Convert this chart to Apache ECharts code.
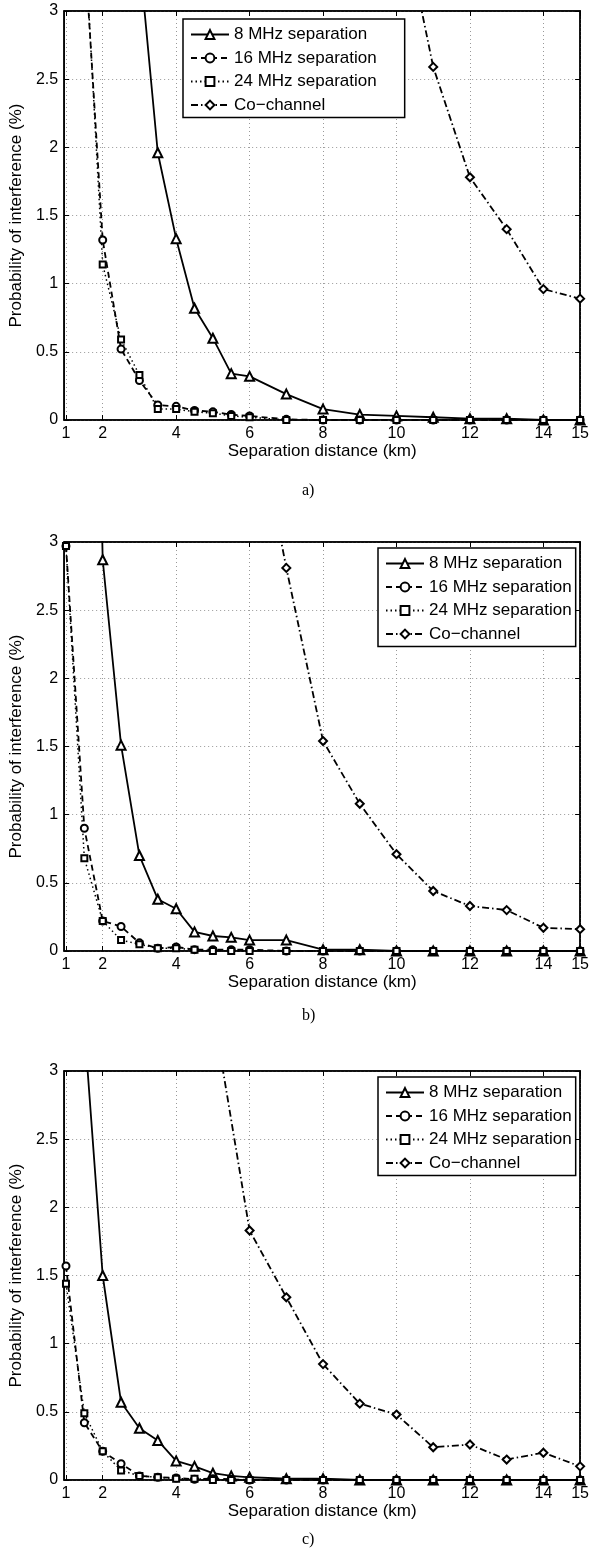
<!DOCTYPE html>
<html>
<head>
<meta charset="utf-8">
<script src="https://cdn.jsdelivr.net/npm/echarts@6/dist/echarts.min.js"></script>
<style>
html, body { margin: 0; padding: 0; background: #fff; }
#chart { width: 592px; height: 1562px; }
</style>
</head>
<body>
<div id="chart"></div>
<script>
// separation distance (km) for every measured point
var dist = [1, 1.5, 2, 2.5, 3, 3.5, 4, 4.5, 5, 5.5, 6, 7, 8, 9, 10, 11, 12, 13, 14, 15];
var xTickLabels = [1, 2, 4, 6, 8, 10, 12, 14, 15];
var names = ['8 MHz separation', '16 MHz separation', '24 MHz separation', 'Co\u2212channel'];
var panelLabels = ['a)', 'b)', 'c)'];

// probability of interference (%), null = no point
var a8  = [null, null, null, null, 3.4, 1.96, 1.33, 0.82, 0.6, 0.34, 0.32, 0.19, 0.08, 0.04, 0.03, 0.02, 0.01, 0.01, 0, 0];
var a16 = [null, 3.5, 1.32, 0.52, 0.29, 0.11, 0.1, 0.07, 0.06, 0.04, 0.03, 0.005, 0, 0, 0, 0, 0, 0, 0, 0];
var a24 = [null, 3.6, 1.14, 0.59, 0.33, 0.08, 0.08, 0.06, 0.05, 0.03, 0.02, 0, 0, 0, 0, 0, 0, 0, 0, 0];
var aCo = [null, null, null, null, null, null, null, null, null, null, null, null, null, null, 3.9, 2.59, 1.78, 1.4, 0.96, 0.89];

var b8  = [null, 9, 2.87, 1.51, 0.7, 0.38, 0.31, 0.14, 0.11, 0.1, 0.08, 0.08, 0.01, 0.01, 0, 0, 0, 0, 0, 0];
var b16 = [2.97, 0.9, 0.22, 0.18, 0.06, 0.02, 0.03, 0.01, 0.01, 0.01, 0.01, 0, 0, 0, 0, 0, 0, 0, 0, 0];
var b24 = [2.97, 0.68, 0.22, 0.08, 0.05, 0.02, 0.02, 0.01, 0, 0, 0, 0, 0, 0, 0, 0, 0, 0, 0, 0];
var bCo = [null, null, null, null, null, null, null, null, null, null, 4.2, 2.81, 1.54, 1.08, 0.71, 0.44, 0.33, 0.3, 0.17, 0.16];

var c8  = [null, 3.33, 1.5, 0.57, 0.38, 0.29, 0.14, 0.1, 0.05, 0.03, 0.02, 0.01, 0.01, 0, 0, 0, 0, 0, 0, 0];
var c16 = [1.57, 0.42, 0.21, 0.12, 0.03, 0.02, 0.015, 0.005, 0.01, 0.005, 0, 0, 0, 0, 0, 0, 0, 0, 0, 0];
var c24 = [1.44, 0.49, 0.21, 0.07, 0.03, 0.02, 0.01, 0.01, 0, 0, 0, 0, 0, 0, 0, 0, 0, 0, 0, 0];
var cCo = [null, null, null, null, null, null, null, null, 3.45, null, 1.83, 1.34, 0.85, 0.56, 0.48, 0.24, 0.26, 0.15, 0.2, 0.1];

var panels = [[a8, a16, a24, aCo], [b8, b16, b24, bCo], [c8, c16, c24, cCo]];

var font = 'Liberation Sans, Arial, Helvetica, sans-serif';
var gridTops = [11, 542, 1071];
var legendPos = [[183, 19], [378, 548], [378, 1077]];
var labelY = [493, 1018, 1542];

var styles = [
    { type: 'solid', width: 1.8, symbol: 'emptyTriangle', size: 9 },
    { type: [6, 4], width: 1.8, symbol: 'emptyCircle', size: 7 },
    { type: [1.5, 3], width: 1.5, symbol: 'emptyRect', size: 6 },
    { type: [7, 3, 1.5, 3], width: 1.8, symbol: 'emptyDiamond', size: 8 }
];

var chart = echarts.init(document.getElementById('chart'));

var grid = [], xAxis = [], yAxis = [], series = [], legend = [], graphic = [];

gridTops.forEach(function (top, p) {
    grid.push({
        left: 61, width: 521, top: top, height: 409,
        show: true, borderColor: '#000', borderWidth: 1.5, backgroundColor: '#fff'
    });
});

// bottom / left axes with labels
gridTops.forEach(function (top, p) {
    xAxis.push({
        type: 'value', gridIndex: p, min: 0.95, max: 15, position: 'bottom',
        name: 'Separation distance (km)', nameLocation: 'middle', nameGap: 23,
        nameTextStyle: { color: '#000', fontFamily: font, fontSize: 17 },
        axisLine: { onZero: false, lineStyle: { color: '#000', width: 1.5 } },
        axisTick: { inside: true, length: 5, customValues: xTickLabels, lineStyle: { color: '#000' } },
        axisLabel: { customValues: xTickLabels, color: '#000', fontFamily: font, fontSize: 16, margin: 6 },
        splitLine: { show: true, lineStyle: { color: '#999', type: [1, 3], width: 1 } }
    });
    yAxis.push({
        type: 'value', gridIndex: p, min: 0, max: 3, interval: 0.5, position: 'left',
        name: 'Probability of interference (%)', nameLocation: 'middle', nameGap: 32,
        nameTextStyle: { color: '#000', fontFamily: font, fontSize: 17 },
        axisLine: { show: true, lineStyle: { color: '#000', width: 1.5 } },
        axisTick: { show: true, inside: true, length: 5, lineStyle: { color: '#000' } },
        axisLabel: { color: '#000', fontFamily: font, fontSize: 16, margin: 6 },
        splitLine: { show: true, lineStyle: { color: '#999', type: [1, 3], width: 1 } }
    });
});

// top / right axes for the box ticks
gridTops.forEach(function (top, p) {
    xAxis.push({
        type: 'value', gridIndex: p, min: 0.95, max: 15, position: 'top',
        axisLine: { onZero: false, lineStyle: { color: '#000', width: 1.5 } },
        axisTick: { inside: true, length: 5, customValues: xTickLabels, lineStyle: { color: '#000' } },
        axisLabel: { show: false },
        splitLine: { show: false }
    });
    yAxis.push({
        type: 'value', gridIndex: p, min: 0, max: 3, interval: 0.5, position: 'right',
        axisLine: { show: true, lineStyle: { color: '#000', width: 1.5 } },
        axisTick: { show: true, inside: true, length: 5, lineStyle: { color: '#000' } },
        axisLabel: { show: false },
        splitLine: { show: false }
    });
});

panels.forEach(function (vals, p) {
    vals.forEach(function (arr, s) {
        var st = styles[s];
        var pts = [];
        arr.forEach(function (v, i) { if (v !== null) pts.push([dist[i], v]); });
        series.push({
            name: names[s], type: 'line', xAxisIndex: p, yAxisIndex: p,
            data: pts, clip: true, animation: false,
            symbol: st.symbol, symbolSize: st.size, showAllSymbol: true,
            lineStyle: { color: '#000', width: st.width, type: st.type },
            itemStyle: { color: '#000', borderWidth: 1.5 },
            emphasis: { disabled: true }
        });
    });
    legend.push({
        data: names, orient: 'vertical',
        left: legendPos[p][0], top: legendPos[p][1],
        itemWidth: 38, itemHeight: 11, itemGap: 6.5,
        padding: p === 0 ? [7, 28, 4, 7] : [7, 4, 4, 7],
        borderColor: '#000', borderWidth: 1.5, backgroundColor: '#fff',
        textStyle: { color: '#000', fontFamily: font, fontSize: 17, lineHeight: 17 },
        selectedMode: false
    });
    graphic.push({
        type: 'text', left: 302, top: labelY[p] - 10,
        style: { text: panelLabels[p], fill: '#000', font: '16px "Liberation Serif", "Times New Roman", serif' }
    });
});

chart.setOption({
    animation: false,
    backgroundColor: '#fff',
    grid: grid,
    xAxis: xAxis,
    yAxis: yAxis,
    legend: legend,
    series: series,
    graphic: graphic
});
</script>
</body>
</html>
